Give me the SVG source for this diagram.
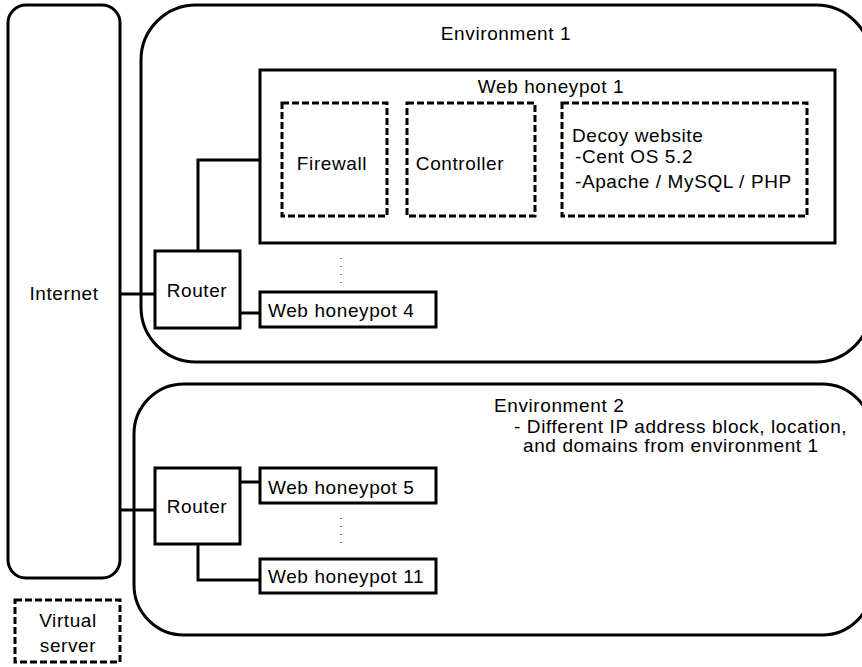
<svg xmlns="http://www.w3.org/2000/svg" width="862" height="667" viewBox="0 0 862 667">
  <style>
    .box { fill: #fff; stroke: #000; stroke-width: 3; }
    .dash { fill: #fff; stroke: #000; stroke-width: 3; stroke-dasharray: 7 3; }
    .wire { fill: none; stroke: #000; stroke-width: 3; }
    .dots { fill: none; stroke: #000; stroke-width: 1; stroke-dasharray: 1 7; }
    text { font-family: "Liberation Sans", Arial, sans-serif; font-size: 19px; fill: #000; letter-spacing: 0.6px; }
    .c { text-anchor: middle; }
  </style>
  <rect width="862" height="667" fill="#fff"/>

  <!-- Internet -->
  <g id="internet">
    <rect class="box" x="8" y="5" width="112" height="573" rx="18"/>
    <text class="c" x="64" y="300">Internet</text>
  </g>

  <!-- Environment 1 -->
  <g id="environment1">
    <rect class="box" x="141" y="5" width="730" height="357" rx="55"/>
    <text class="c" x="506" y="40">Environment 1</text>
  </g>

  <!-- Environment 2 -->
  <g id="environment2">
    <rect class="box" x="134" y="384" width="738" height="251" rx="50"/>
    <text x="494" y="412">Environment 2</text>
    <text x="514" y="433">- Different IP address block, location,</text>
    <text x="523" y="452">and domains from environment 1</text>
  </g>

  <!-- Connectors -->
  <g id="connectors">
    <line class="wire" x1="120" y1="294" x2="155" y2="294"/>
    <polyline class="wire" points="198,251 198,160 282,160"/>
    <line class="wire" x1="387" y1="160" x2="407" y2="160"/>
    <line class="wire" x1="535" y1="160" x2="562" y2="160"/>
    <line class="wire" x1="240" y1="313" x2="260" y2="313"/>
    <line class="wire" x1="120" y1="510" x2="155" y2="510"/>
    <line class="wire" x1="240" y1="482" x2="260" y2="482"/>
    <polyline class="wire" points="198,544 198,580 260,580"/>
    <line class="dots" x1="341" y1="258" x2="341" y2="284"/>
    <line class="dots" x1="341" y1="518" x2="341" y2="546"/>
  </g>

  <!-- Web honeypot 1 -->
  <g id="honeypot1">
    <rect class="box" x="260" y="70" width="575" height="173"/>
    <text class="c" x="551" y="93">Web honeypot 1</text>
  </g>

  <g id="firewall">
    <rect class="dash" x="282" y="103" width="105" height="113"/>
    <text class="c" x="332" y="170">Firewall</text>
  </g>

  <g id="controller">
    <rect class="dash" x="407" y="103" width="128" height="113"/>
    <text class="c" x="460" y="170">Controller</text>
  </g>

  <g id="decoy">
    <rect class="dash" x="562" y="103" width="245" height="113"/>
    <text x="572" y="142">Decoy website</text>
    <text x="575" y="163">-Cent OS 5.2</text>
    <text x="575" y="188">-Apache / MySQL / PHP</text>
  </g>

  <!-- Router of environment 1 -->
  <g id="router1">
    <rect class="box" x="155" y="251" width="85" height="77"/>
    <text class="c" x="197" y="297">Router</text>
  </g>

  <g id="honeypot4">
    <rect class="box" x="260" y="292" width="176" height="35"/>
    <text x="268" y="317">Web honeypot 4</text>
  </g>

  <!-- Router of environment 2 -->
  <g id="router2">
    <rect class="box" x="155" y="468" width="85" height="76"/>
    <text class="c" x="197" y="513">Router</text>
  </g>

  <g id="honeypot5">
    <rect class="box" x="260" y="468" width="176" height="35"/>
    <text x="268" y="494">Web honeypot 5</text>
  </g>

  <g id="honeypot11">
    <rect class="box" x="260" y="559" width="176" height="34"/>
    <text x="268" y="583">Web honeypot 11</text>
  </g>

  <!-- Legend -->
  <g id="virtual-server">
    <rect class="dash" x="15" y="600" width="105" height="62"/>
    <text class="c" x="68" y="627">Virtual</text>
    <text class="c" x="68" y="652">server</text>
  </g>
</svg>
